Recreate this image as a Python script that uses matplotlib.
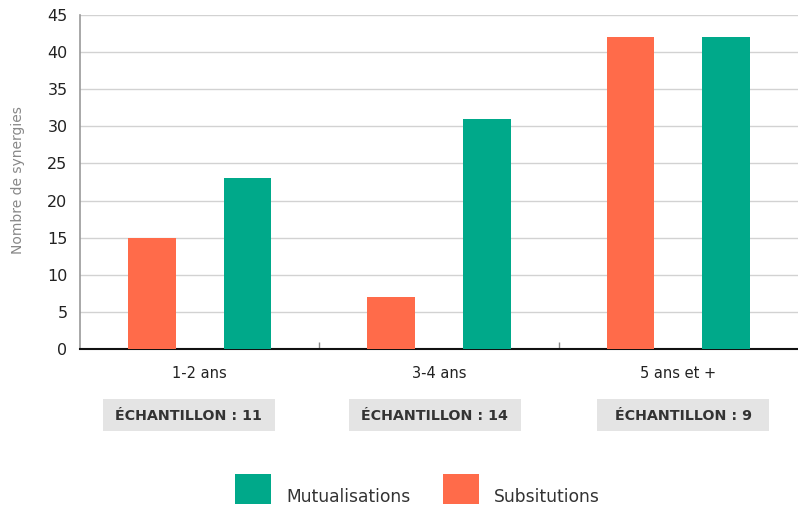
import matplotlib
matplotlib.use("Agg")
import matplotlib.pyplot as plt
import matplotlib.transforms as mtransforms
from matplotlib.patches import Rectangle
import numpy as np

plt.rcParams['font.family'] = ['DejaVu Sans']

categories = ["1-2 ans", "3-4 ans", "5 ans et +"]
substitutions = [15, 7, 42]
mutualisations = [23, 31, 42]
echantillons = [11, 14, 9]
yticks = [0, 5, 10, 15, 20, 25, 30, 35, 40, 45]
series_names = ["Mutualisations", "Subsitutions"]

orange = "#FF6B4A"
green = "#00A98A"

W, H = 798, 507
fig = plt.figure(figsize=(W / 100, H / 100), dpi=100)
ax = fig.add_axes([80 / W, 1 - 349 / H, 718 / W, 334 / H])

x = np.arange(len(categories))
w = 0.2
ax.bar(x - 0.2, substitutions, w, color=orange, zorder=3)
ax.bar(x + 0.2, mutualisations, w, color=green, zorder=3)

ax.set_xlim(-0.5, len(categories) - 0.5)
ax.set_ylim(0, 45)
ax.set_yticks(yticks)
ax.yaxis.grid(True, color="#d2d2d2", linewidth=1.0, zorder=0)
ax.set_axisbelow(True)
ax.tick_params(axis='y', length=0, pad=9, labelsize=11.5, labelcolor="#222222")

ax.set_xticks(x[:-1] + 0.5)
ax.set_xticklabels([])
ax.tick_params(axis='x', which='major', direction='in', length=5, width=1, color="#888888")
ax.set_xticks(x, minor=True)
ax.set_xticklabels(categories, minor=True)
ax.tick_params(axis='x', which='minor', length=0, pad=12, labelsize=10.5, labelcolor="#222222")

for s in ['top', 'right']:
    ax.spines[s].set_visible(False)
ax.spines['left'].set_color("#999999")
ax.spines['left'].set_linewidth(1.2)
ax.spines['bottom'].set_color("#111111")
ax.spines['bottom'].set_linewidth(1.5)

ax.set_ylabel("Nombre de synergies", fontsize=10, color="#888888", labelpad=12)
ax.yaxis.set_label_coords(-55 / 718, (349 - 180) / 334)

# sample-size boxes under each category
trans = mtransforms.blended_transform_factory(ax.transData, ax.transAxes)
box_offsets = [-0.045, -0.017, 0.02]
bw = 0.72
top = -50 / 334
bh = 32 / 334
for xi, off, n in zip(x, box_offsets, echantillons):
    ax.add_patch(Rectangle((xi + off - bw / 2, top - bh), bw, bh, transform=trans,
                           facecolor="#e4e4e4", edgecolor='none', clip_on=False))
    ax.text(xi + off, top - bh / 2 - 1.5 / 334, f"ÉCHANTILLON : {n}", transform=trans,
            ha='center', va='center', fontsize=10.3, fontweight='bold', color="#333333")

# legend (swatches + labels)
legend_items = [(series_names[0], green, 235), (series_names[1], orange, 443)]
for name, col, px in legend_items:
    fig.add_artist(Rectangle((px / W, 1 - 504 / H), 36 / W, 30 / H,
                             transform=fig.transFigure, facecolor=col, edgecolor='none'))
    fig.text((px + 51) / W, 1 - 497 / H, name, ha='left', va='center',
             fontsize=12.3, color="#333333")

fig.savefig("out.png", dpi=100)
